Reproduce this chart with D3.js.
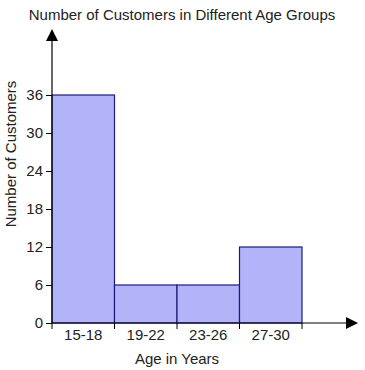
<!DOCTYPE html>
<html>
<head>
<meta charset="utf-8">
<script src="https://cdn.jsdelivr.net/npm/d3@7"></script>
<style>
  body { margin: 0; background: #fff; }
  text { font-family: "Liberation Sans", Arial, sans-serif; fill: #222; }
</style>
</head>
<body>
<div id="chart"></div>
<script>
// chart data
const ageGroups = ["15-18", "19-22", "23-26", "27-30"];
const customers = [36, 6, 6, 12];
const yTicks = [0, 6, 12, 18, 24, 30, 36];

const svg = d3.select("#chart")
    .append("svg")
    .attr("width", 365)
    .attr("height", 370);

const margin = { top: 95, left: 52 },
    plotWidth = 250,
    plotHeight = 228;

// band scale with no padding, bars touch like a histogram
const x = d3.scaleBand()
    .domain(ageGroups)
    .range([margin.left, margin.left + plotWidth])
    .padding(0);

const y = d3.scaleLinear()
    .domain([0, 36])
    .range([margin.top + plotHeight, margin.top]);

const axisY0 = y(0);

// bars
svg.selectAll(".bar")
    .data(customers)
    .enter().append("rect")
    .attr("class", "bar")
    .attr("x", (d, i) => x(ageGroups[i]))
    .attr("y", d => y(d))
    .attr("width", x.bandwidth())
    .attr("height", d => axisY0 - y(d))
    .attr("fill", "#b3b3fa")
    .attr("stroke", "#1c1c7c")
    .attr("stroke-width", 1.2);

// y axis
const yAxis = svg.append("g")
    .attr("transform", `translate(${margin.left},0)`)
    .call(d3.axisLeft(y).tickValues(yTicks).tickSize(6).tickPadding(3));
yAxis.select(".domain").remove();
yAxis.selectAll("text")
    .style("font-size", "15px")
    .attr("fill", "#222");
yAxis.selectAll("line").attr("stroke", "#000");

// x axis ticks at bar edges
const edges = ageGroups.map(g => x(g)).concat([x(ageGroups[ageGroups.length - 1]) + x.bandwidth()]);
svg.selectAll(".xtick")
    .data(edges)
    .enter().append("line")
    .attr("class", "xtick")
    .attr("x1", d => d).attr("x2", d => d)
    .attr("y1", axisY0).attr("y2", axisY0 + 6)
    .attr("stroke", "#000");

svg.selectAll(".xlabel")
    .data(ageGroups)
    .enter().append("text")
    .attr("class", "xlabel")
    .attr("x", d => x(d) + x.bandwidth() / 2)
    .attr("y", axisY0 + 17)
    .attr("text-anchor", "middle")
    .style("font-size", "15px")
    .text(d => d);

// axis lines with arrows
svg.append("line")
    .attr("x1", margin.left).attr("x2", margin.left)
    .attr("y1", axisY0).attr("y2", 40)
    .attr("stroke", "#000").attr("stroke-width", 1.2);
svg.append("path")
    .attr("d", `M${margin.left},29 L${margin.left - 6},41 L${margin.left + 6},41 Z`)
    .attr("fill", "#000");

svg.append("line")
    .attr("x1", margin.left).attr("x2", 347)
    .attr("y1", axisY0).attr("y2", axisY0)
    .attr("stroke", "#000").attr("stroke-width", 1.2);
svg.append("path")
    .attr("d", `M358,${axisY0} L346,${axisY0 - 6} L346,${axisY0 + 6} Z`)
    .attr("fill", "#000");

// titles
svg.append("text")
    .attr("x", 182)
    .attr("y", 20)
    .attr("text-anchor", "middle")
    .style("font-size", "15px")
    .text("Number of Customers in Different Age Groups");

svg.append("text")
    .attr("x", x("19-22") + x.bandwidth())
    .attr("y", 364)
    .attr("text-anchor", "middle")
    .style("font-size", "15px")
    .text("Age in Years");

svg.append("text")
    .attr("transform", "rotate(-90)")
    .attr("x", -154)
    .attr("y", 16)
    .attr("text-anchor", "middle")
    .style("font-size", "15px")
    .text("Number of Customers");
</script>
</body>
</html>
